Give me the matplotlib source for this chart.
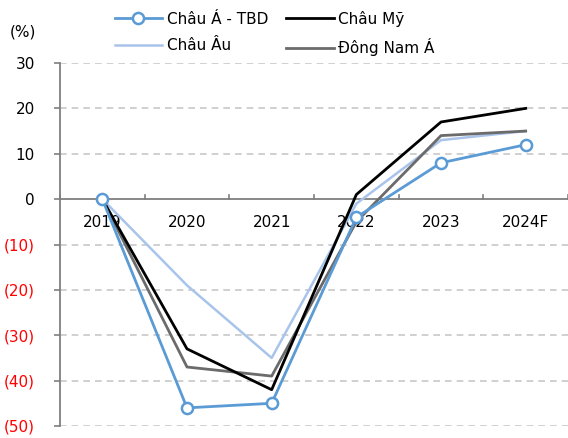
import matplotlib
matplotlib.use("Agg")
import matplotlib.pyplot as plt
from matplotlib.ticker import FixedLocator

years = ["2019", "2020", "2021", "2022", "2023", "2024F"]
chau_a_tbd = [0, -46, -45, -4, 8, 12]
chau_my = [0, -33, -42, 1, 17, 20]
chau_au = [0, -19, -35, -1, 13, 15]
dong_nam_a = [0, -37, -39, -5, 14, 15]
y_ticks = [30, 20, 10, 0, -10, -20, -30, -40, -50]

plt.rcParams['font.family'] = ['DejaVu Sans']

fig = plt.figure(figsize=(5.68, 4.38), dpi=100)
ax = fig.add_axes([60 / 568, 12 / 438, 508 / 568, 363 / 438])

x = list(range(len(years)))
ax.plot(x, chau_au, color="#A9C4EB", lw=1.8, label="Châu Âu", zorder=3)
ax.plot(x, dong_nam_a, color="#6B6B6B", lw=2.0, label="Đông Nam Á", zorder=4)
ax.plot(x, chau_my, color="#000000", lw=2.0, label="Châu Mỹ", zorder=5)
ax.plot(x, chau_a_tbd, color="#5B9BD5", lw=2.0, marker="o", ms=8,
        mfc="white", mec="#5B9BD5", mew=1.8, label="Châu Á - TBD", zorder=6)

ax.set_xlim(-0.5, len(years) - 0.5)
ax.set_ylim(-50, 30)

# horizontal dashed grid
for v in y_ticks:
    if v != 0:
        ax.axhline(v, color="#C8C8C8", lw=1.2, ls=(0, (4, 3)), zorder=1)

# zero-line category axis
ax.axhline(0, color="#7F7F7F", lw=1.3, zorder=2)
for b in range(len(years) + 1):
    ax.plot([b - 0.5, b - 0.5], [0, 1.0], color="#7F7F7F", lw=1.2, zorder=2,
            clip_on=False)
for i, lab in enumerate(years):
    ax.text(i, -3.6, lab, ha="center", va="top", fontsize=11, color="black",
            zorder=2)

ax.set_xticks([])
for s in ["top", "right", "bottom"]:
    ax.spines[s].set_visible(False)
ax.spines["left"].set_color("#7F7F7F")
ax.spines["left"].set_linewidth(1.3)

ax.yaxis.set_major_locator(FixedLocator(y_ticks))
ax.set_yticklabels([str(v) if v >= 0 else f"({-v})" for v in y_ticks])
ax.tick_params(axis="y", direction="out", length=4, width=1.2,
               color="#7F7F7F", labelsize=11, pad=14)
for lab, v in zip(ax.get_yticklabels(), y_ticks):
    lab.set_color("black" if v >= 0 else "#FF0000")

fig.text(10 / 568, 1 - 32 / 438, "(%)", fontsize=11, va="center", ha="left")

h, l = ax.get_legend_handles_labels()
order = [l.index(n) for n in ["Châu Á - TBD", "Châu Âu", "Châu Mỹ", "Đông Nam Á"]]
fig.legend([h[i] for i in order], [l[i] for i in order], ncol=2,
           loc="upper left", bbox_to_anchor=(104 / 568, 1.0), frameon=False,
           fontsize=11, handlelength=3.1, columnspacing=1.2,
           handletextpad=0.3, labelspacing=0.75, borderaxespad=0.3)

fig.savefig("out.png", dpi=100)
